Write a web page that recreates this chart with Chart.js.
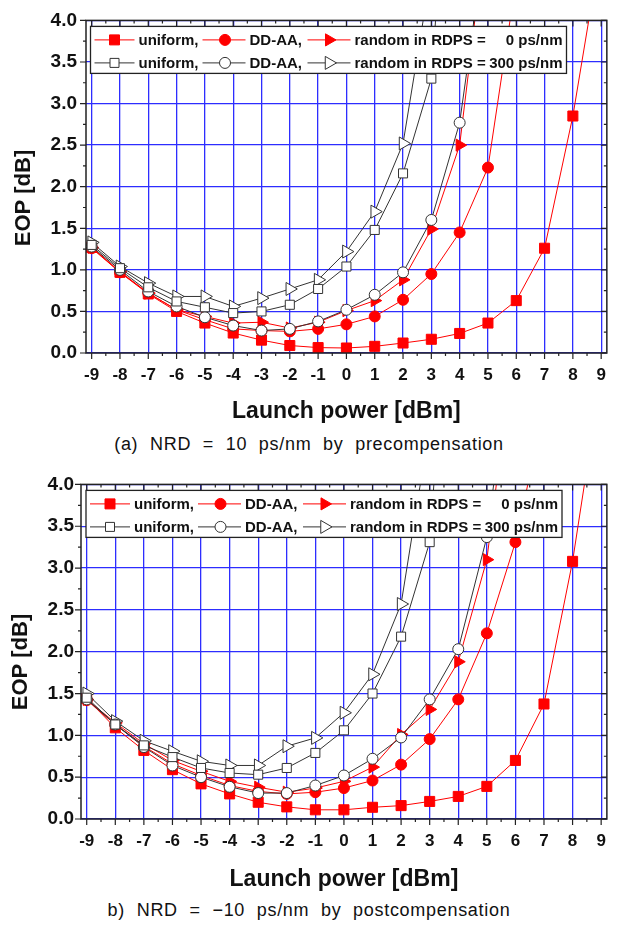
<!DOCTYPE html>
<html lang="en">
<head>
<meta charset="UTF-8">
<title>EOP vs launch power</title>
<script src="https://cdn.jsdelivr.net/npm/chart.js"></script>
<style>
  body { margin: 0; background: #fff; width: 618px; height: 925px; position: relative; overflow: hidden; }
  .box { position: absolute; left: 0; width: 618px; height: 430px; }
  .cap { position: absolute; left: 0; width: 618px; text-align: center; color: #111;
         font-family: "Liberation Sans", Arial, sans-serif; font-size: 18px; word-spacing: 6px; letter-spacing: 0.7px; }
</style>
</head>
<body>
<div class="box" style="top:0"><canvas id="chartA" width="618" height="430"></canvas></div>
<div class="cap" style="top:434px">(a) NRD = 10 ps/nm by precompensation</div>
<div class="box" style="top:466px"><canvas id="chartB" width="618" height="430"></canvas></div>
<div class="cap" style="top:900px">b) NRD = −10 ps/nm by postcompensation</div>

<script>
// x positions (launch power, dBm) and tick lists
const launchPower = [-9, -8, -7, -6, -5, -4, -3, -2, -1, 0, 1, 2, 3, 4, 5, 6, 7, 8, 9];
const powerTicks = [-9, -8, -7, -6, -5, -4, -3, -2, -1, 0, 1, 2, 3, 4, 5, 6, 7, 8, 9];
const eopTicks = [0, 0.5, 1, 1.5, 2, 2.5, 3, 3.5, 4];

// (a) NRD = 10 ps/nm, precompensation  (EOP in dB, values above 4 are clipped)
const aUniform0   = [1.27, 0.97, 0.71, 0.50, 0.36, 0.24, 0.155, 0.09, 0.065, 0.06, 0.08, 0.12, 0.165, 0.235, 0.36, 0.63, 1.26, 2.85, 4.9];
const aDdaa0      = [1.26, 0.97, 0.72, 0.52, 0.40, 0.29, 0.27, 0.26, 0.29, 0.345, 0.44, 0.64, 0.95, 1.45, 2.23, 4.5];
const aRandom0    = [1.27, 0.98, 0.72, 0.52, 0.44, 0.36, 0.37, 0.30, 0.37, 0.51, 0.63, 0.88, 1.49, 2.50, 5.3];
const aUniform300 = [1.30, 1.02, 0.79, 0.62, 0.55, 0.48, 0.50, 0.58, 0.77, 1.04, 1.48, 2.16, 3.30, 8.0];
const aDdaa300    = [1.28, 1.00, 0.74, 0.56, 0.43, 0.33, 0.27, 0.29, 0.38, 0.52, 0.70, 0.97, 1.60, 2.77, 5.2];
const aRandom300  = [1.33, 1.04, 0.84, 0.68, 0.68, 0.56, 0.66, 0.77, 0.88, 1.22, 1.70, 2.52, 4.6];

// (b) NRD = -10 ps/nm, postcompensation
const bUniform0   = [1.44, 1.09, 0.82, 0.59, 0.42, 0.30, 0.20, 0.145, 0.11, 0.11, 0.14, 0.16, 0.21, 0.27, 0.39, 0.70, 1.375, 3.08, 5.3];
const bDdaa0      = [1.42, 1.13, 0.87, 0.66, 0.52, 0.40, 0.33, 0.30, 0.32, 0.37, 0.46, 0.65, 0.955, 1.43, 2.22, 3.31, 4.9];
const bRandom0    = [1.43, 1.15, 0.90, 0.70, 0.57, 0.45, 0.38, 0.32, 0.37, 0.45, 0.62, 1.01, 1.31, 1.88, 3.10, 5.8];
const bUniform300 = [1.45, 1.13, 0.88, 0.74, 0.61, 0.55, 0.53, 0.61, 0.79, 1.06, 1.50, 2.18, 3.31, 8.0];
const bDdaa300    = [1.43, 1.13, 0.86, 0.64, 0.50, 0.385, 0.31, 0.31, 0.40, 0.52, 0.72, 0.975, 1.43, 2.03, 3.37, 6.0];
const bRandom300  = [1.50, 1.17, 0.935, 0.81, 0.69, 0.64, 0.64, 0.87, 0.97, 1.27, 1.73, 2.57, 4.7];

const FONT = '"Liberation Sans", Arial, sans-serif';
const RED = '#ff0000';
const DARK = '#333333';
const GRID = 'rgb(45,45,255)';
Chart.defaults.font.family = FONT;
Chart.defaults.color = '#111';

function pts(vals) {
  return vals.map((v, i) => ({ x: launchPower[i], y: v }));
}

function series(vals, shape, filled, order) {
  const size = { rect: filled ? 7.1 : 6.4, circle: 5.5, triangle: filled ? 7 : 7.5 }[shape];
  return {
    data: pts(vals),
    order: order,
    borderColor: filled ? RED : DARK,
    borderWidth: 1,
    pointStyle: shape,
    pointRotation: shape === 'triangle' ? 90 : 0,
    pointRadius: size,
    pointHoverRadius: size,
    pointBackgroundColor: filled ? RED : '#fff',
    pointBorderColor: filled ? RED : DARK,
    pointBorderWidth: 1,
    tension: 0
  };
}

function marker(ctx, shape, x, y, filled) {
  ctx.beginPath();
  if (shape === 'rect') {
    const h = filled ? 5 : 4.5;
    ctx.rect(x - h, y - h, 2 * h, 2 * h);
  } else if (shape === 'circle') {
    ctx.arc(x, y, 5.5, 0, Math.PI * 2);
  } else {
    const r = filled ? 7 : 7.5;
    ctx.moveTo(x + r, y);
    ctx.lineTo(x - r / 2, y - r * 0.866);
    ctx.lineTo(x - r / 2, y + r * 0.866);
    ctx.closePath();
  }
  ctx.fillStyle = filled ? RED : '#fff';
  ctx.fill();
  ctx.strokeStyle = filled ? RED : DARK;
  ctx.lineWidth = 1;
  ctx.stroke();
}

// frame, tick marks, legend box and y title
const frame = {
  id: 'frame',
  afterDraw(chart, args, opts) {
    const { ctx, chartArea: a, scales: { x, y } } = chart;
    ctx.save();
    ctx.strokeStyle = '#222';
    ctx.lineWidth = 1.5;
    ctx.strokeRect(a.left, a.top, a.right - a.left, a.bottom - a.top);
    ctx.lineWidth = 1.2;
    ctx.beginPath();
    for (let v = -9; v <= 9; v += 0.5) {
      const px = x.getPixelForValue(v);
      const len = Number.isInteger(v) ? 6 : 3;
      ctx.moveTo(px, a.bottom); ctx.lineTo(px, a.bottom + len);
      ctx.moveTo(px, a.top); ctx.lineTo(px, a.top + len);
    }
    for (let k = 0; k <= 16; k++) {
      const py = y.getPixelForValue(k * 0.25);
      const len = k % 2 === 0 ? 6 : 3;
      ctx.moveTo(a.left, py); ctx.lineTo(a.left - len, py);
      ctx.moveTo(a.right, py); ctx.lineTo(a.right - len, py);
    }
    ctx.stroke();

    // legend
    const bx = a.left + opts.legendDx, by = a.top + 6, bw = 476, bh = 47;
    ctx.fillStyle = '#fff';
    ctx.fillRect(bx, by, bw, bh);
    ctx.strokeStyle = '#222';
    ctx.lineWidth = 1.3;
    ctx.strokeRect(bx, by, bw, bh);
    const rows = [
      { filled: true, y: by + 13.5, tail: '0 ps/nm' },
      { filled: false, y: by + 36.5, tail: '300 ps/nm' }
    ];
    const items = [
      { shape: 'rect', x0: 4, x1: 44, m: 24, tx: 48, text: 'uniform,' },
      { shape: 'circle', x0: 112, x1: 155, m: 134.5, tx: 159, text: 'DD-AA,' },
      { shape: 'triangle', x0: 217, x1: 260, m: 238.5, tx: 264, text: 'random in RDPS =' }
    ];
    ctx.font = 'bold 15px ' + FONT;
    ctx.textBaseline = 'middle';
    rows.forEach(r => {
      items.forEach(it => {
        ctx.strokeStyle = r.filled ? RED : DARK;
        ctx.lineWidth = 1;
        ctx.beginPath();
        ctx.moveTo(bx + it.x0, r.y); ctx.lineTo(bx + it.x1, r.y);
        ctx.stroke();
        marker(ctx, it.shape, bx + it.m, r.y, r.filled);
        ctx.fillStyle = '#111';
        ctx.textAlign = 'left';
        ctx.fillText(it.text, bx + it.tx, r.y + 1);
      });
      ctx.textAlign = 'right';
      ctx.fillText(r.tail, bx + 472, r.y + 1);
    });

    // y axis title
    ctx.translate(opts.titleX, opts.titleY);
    ctx.rotate(-Math.PI / 2);
    ctx.font = 'bold 22px ' + FONT;
    ctx.textAlign = 'center';
    ctx.textBaseline = 'middle';
    ctx.fillStyle = '#111';
    ctx.fillText('EOP [dB]', 0, 0);
    ctx.restore();
  }
};

function makeChart(id, s, yWidth, padRight, labelPad, legendDx, titleX, titleY, xTitleBottom) {
  return new Chart(document.getElementById(id), {
    type: 'line',
    data: {
      datasets: [
        series(s[0], 'rect', true, 1),
        series(s[1], 'circle', true, 1),
        series(s[2], 'triangle', true, 1),
        series(s[3], 'rect', false, 0),
        series(s[4], 'circle', false, 0),
        series(s[5], 'triangle', false, 0)
      ]
    },
    options: {
      responsive: false,
      animation: false,
      layout: { padding: { top: 14, right: padRight, left: 0, bottom: 0 } },
      plugins: {
        legend: { display: false },
        tooltip: { enabled: false },
        frame: { legendDx: legendDx, titleX: titleX, titleY: titleY }
      },
      scales: {
        x: {
          type: 'linear',
          min: -9.2,
          max: 9.2,
          afterBuildTicks: sc => { sc.ticks = powerTicks.map(v => ({ value: v })); },
          afterFit: sc => { sc.height = 77; },
          grid: { color: GRID, lineWidth: 1.3, drawTicks: false },
          border: { display: false },
          ticks: {
            padding: 12,
            autoSkip: false,
            maxRotation: 0,
            color: '#111',
            font: { size: 17, weight: 'bold' },
            callback: v => String(v)
          },
          title: {
            display: true,
            text: 'Launch power [dBm]',
            color: '#111',
            font: { size: 23, weight: 'bold' },
            padding: { top: 0, bottom: xTitleBottom }
          }
        },
        y: {
          min: 0,
          max: 4,
          afterBuildTicks: sc => { sc.ticks = eopTicks.map(v => ({ value: v })); },
          afterFit: sc => { sc.width = yWidth; },
          grid: { color: GRID, lineWidth: 1.3, drawTicks: false },
          border: { display: false },
          ticks: {
            padding: labelPad,
            color: '#111',
            font: { size: 19, weight: 'bold' },
            callback: v => v.toFixed(1)
          }
        }
      }
    },
    plugins: [frame]
  });
}

makeChart('chartA', [aUniform0, aDdaa0, aRandom0, aUniform300, aDdaa300, aRandom300], 86, 6, 9, 4.5, 24, 198, 5);
makeChart('chartB', [bUniform0, bDdaa0, bRandom0, bUniform300, bDdaa300, bRandom300], 81, 11, 7, 5, 21, 196, 3);
</script>
</body>
</html>
